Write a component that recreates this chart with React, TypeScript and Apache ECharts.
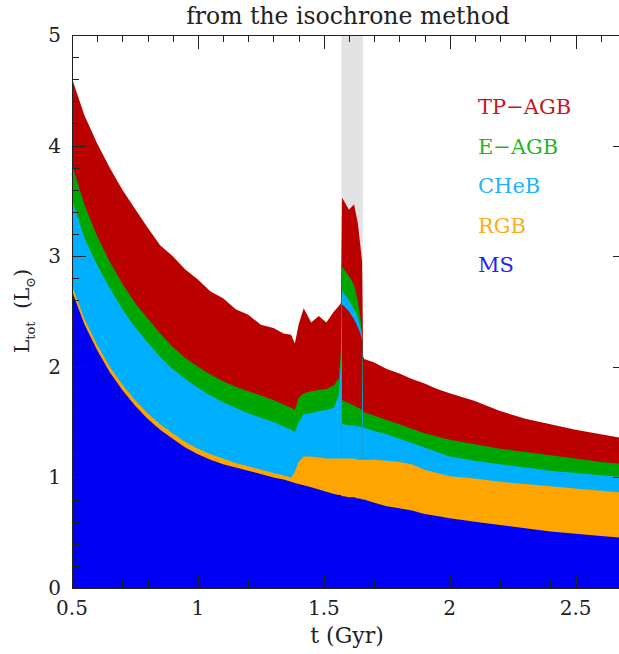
import React, { useEffect, useRef } from "react";
import * as echarts from "echarts";

// Ages (Gyr)
const times = [
  0.5, 0.504, 0.55, 0.6, 0.65, 0.7, 0.75, 0.8, 0.85, 0.9, 0.95,
  1.0, 1.05, 1.1, 1.15, 1.2, 1.25, 1.3, 1.34, 1.37, 1.385,
  1.4, 1.42, 1.45, 1.48, 1.51, 1.54, 1.56, 1.568, 1.572, 1.58,
  1.6, 1.62, 1.635, 1.645, 1.652, 1.656, 1.66, 1.7, 1.75, 1.8,
  1.85, 1.9, 1.95, 2.0, 2.1, 2.2, 2.3, 2.4, 2.5, 2.6,
  2.7,
];

// cumulative luminosity (upper edge of each phase), L_sun
const tpagbTop = [
  5.0, 4.58, 4.27, 4.02, 3.8, 3.6, 3.43, 3.26, 3.1, 3.0, 2.88,
  2.79, 2.68, 2.62, 2.52, 2.47, 2.38, 2.35, 2.3, 2.29, 2.21,
  2.38, 2.53, 2.4, 2.46, 2.4, 2.5, 2.55, 2.58, 3.53, 3.5,
  3.42, 3.47, 3.3, 3.1, 2.95, 2.1, 2.07, 2.04, 1.98, 1.94,
  1.89, 1.85, 1.8, 1.76, 1.69, 1.6, 1.53, 1.48, 1.43, 1.39,
  1.35,
];
const eagbTop = [
  5.0, 3.8, 3.46, 3.18, 2.95, 2.75, 2.58, 2.44, 2.3, 2.18, 2.08,
  2.0, 1.93, 1.87, 1.82, 1.78, 1.74, 1.7, 1.66, 1.63, 1.61,
  1.72, 1.76, 1.78, 1.79, 1.8, 1.83, 1.9, 2.15, 2.91, 2.88,
  2.82, 2.74, 2.6, 2.45, 2.3, 1.6, 1.59, 1.56, 1.52, 1.48,
  1.44, 1.4, 1.37, 1.34, 1.3, 1.26, 1.23, 1.2, 1.17, 1.14,
  1.12,
];
const chebTop = [
  3.5, 3.48, 3.16, 2.92, 2.71, 2.52, 2.36, 2.22, 2.09, 1.98, 1.89,
  1.81, 1.74, 1.68, 1.63, 1.58, 1.54, 1.5, 1.46, 1.43, 1.41,
  1.5, 1.57, 1.58, 1.6, 1.61, 1.63, 1.75, 2.05, 2.69, 2.66,
  2.6, 2.52, 2.45, 2.36, 2.28, 1.45, 1.45, 1.42, 1.39, 1.35,
  1.31, 1.27, 1.23, 1.19, 1.15, 1.12, 1.09, 1.06, 1.04, 1.02,
  1.0,
];
const rgbTop = [
  2.73, 2.71, 2.43, 2.2, 2.0, 1.84, 1.7, 1.58, 1.48, 1.4, 1.32,
  1.26, 1.21, 1.17, 1.13, 1.1, 1.07, 1.04, 1.02, 1.0, 1.05,
  1.14, 1.19, 1.19, 1.18, 1.17, 1.17, 1.17, 1.17, 1.17, 1.17,
  1.17, 1.17, 1.16, 1.16, 1.16, 1.16, 1.16, 1.16, 1.15, 1.14,
  1.12, 1.07, 1.04, 1.01, 0.99, 0.96, 0.94, 0.92, 0.9, 0.88,
  0.86,
];
const msTop = [
  2.68, 2.66, 2.38, 2.15, 1.95, 1.79, 1.65, 1.53, 1.43, 1.35, 1.27,
  1.21, 1.16, 1.12, 1.09, 1.06, 1.03, 1.0, 0.98, 0.96, 0.95,
  0.94, 0.93, 0.91, 0.89, 0.87, 0.85, 0.84, 0.84, 0.83, 0.83,
  0.82, 0.82, 0.81, 0.81, 0.8, 0.8, 0.8, 0.77, 0.74, 0.72,
  0.7, 0.67, 0.65, 0.63, 0.6, 0.57, 0.54, 0.51, 0.49, 0.47,
  0.45,
];

// overlapping isochrones inside the shaded interval
const spikeTimes = [1.572, 1.58, 1.6, 1.62, 1.635, 1.645, 1.652];
const spikeTpagbLow = [2.56, 2.55, 2.5, 2.43, 2.36, 2.3, 2.24];
const spikeEagbLow = [1.7, 1.69, 1.67, 1.65, 1.63, 1.62, 1.61];
const spikeChebLow = [1.48, 1.48, 1.47, 1.47, 1.46, 1.46, 1.45];

const band = [1.57, 1.655];

// axes
const xMin = 0.5;
const xMax = 2.7;
const yMin = 0;
const yMax = 5;
const xMajorStep = 0.5;
const xMinorStep = 0.1;
const yMajorStep = 1;
const yMinorStep = 0.2;

const GRID = { left: 72, top: 35, right: 14, bottom: 66 };
const CHART_W = 640;
const CHART_H = 654;

const legendNames = ["TP\u2212AGB", "E\u2212AGB", "CHeB", "RGB", "MS"];
const colors = {
  tpagb: "#bb0000",
  eagb: "#00a600",
  cheb: "#00b0ff",
  rgb: "#ffa500",
  ms: "#0000f5",
};
const legendColors = ["#c8141c", "#1fb51f", "#22b0ff", "#ffaa22", "#2222ee"];

const FONT = '"DejaVu Serif", "Liberation Serif", serif';
const INK = "#222";

function layer(name: string, xs: number[], ys: number[], color: string) {
  return {
    type: "line",
    name,
    data: xs.map((t, i) => [t, ys[i]]),
    symbol: "none",
    showSymbol: false,
    silent: true,
    lineStyle: { width: 0, color },
    itemStyle: { color },
    areaStyle: { color, opacity: 1 },
  };
}

function tickValues(min: number, max: number, step: number) {
  const out: number[] = [];
  const n = Math.round((max - min) / step);
  for (let i = 1; i < n + 1; i++) {
    const v = Math.round((min + i * step) * 1000) / 1000;
    if (v > min && v < max) out.push(v);
  }
  return out;
}
function isMajor(v: number, step: number) {
  const r = v / step;
  return Math.abs(r - Math.round(r)) < 1e-6;
}

function bar(x: number, y: number, w: number, h: number) {
  return {
    type: "rect",
    silent: true,
    z: 100,
    shape: { x, y, width: w, height: h },
    style: { fill: INK },
  };
}

export default function App() {
  const ref = useRef<HTMLDivElement>(null);
  useEffect(() => {
    if (!ref.current) return;
    const chart = echarts.init(ref.current, null, { renderer: "svg" });
    const labelStyle = { fontFamily: FONT, fontSize: 20, color: INK };
    const hidden = {
      axisLine: { show: false },
      axisTick: { show: false },
      minorTick: { show: false },
      splitLine: { show: false },
    };
    const texts: any[] = [
      {
        type: "text",
        x: 348,
        y: 16,
        style: {
          text: "from the isochrone method",
          font: `23.5px ${FONT}`,
          fill: INK,
          textAlign: "center",
          textVerticalAlign: "middle",
        },
      },
      {
        type: "text",
        x: 347,
        y: 635,
        style: {
          text: "t (Gyr)",
          font: `22px ${FONT}`,
          fill: INK,
          textAlign: "center",
          textVerticalAlign: "middle",
        },
      },
      {
        type: "text",
        x: 22,
        y: 311,
        rotation: Math.PI / 2,
        style: {
          text: "{m|L}{s|tot}{m|  (L}{s|\u2299}{m|)}",
          textAlign: "center",
          textVerticalAlign: "middle",
          fill: INK,
          rich: {
            m: { fontFamily: FONT, fontSize: 20, fill: INK, lineHeight: 30, verticalAlign: "middle" },
            s: { fontFamily: FONT, fontSize: 13, fill: INK, lineHeight: 30, verticalAlign: "bottom" },
          },
        },
      },
      ...legendNames.map((n, i) => ({
        type: "text",
        x: 478,
        y: 107 + i * 39.5,
        style: {
          text: n,
          font: `21px ${FONT}`,
          fill: legendColors[i],
          textAlign: "left",
          textVerticalAlign: "middle",
        },
      })),
    ];
    const option: any = {
      animation: false,
      grid: GRID,
      xAxis: {
        type: "value",
        min: xMin,
        max: xMax,
        interval: xMajorStep,
        ...hidden,
        axisLabel: { ...labelStyle, margin: 10, showMaxLabel: false },
      },
      yAxis: {
        type: "value",
        min: yMin,
        max: yMax,
        interval: yMajorStep,
        ...hidden,
        axisLabel: { ...labelStyle, margin: 11 },
      },
      series: [
        {
          type: "line",
          data: [],
          z: 1,
          silent: true,
          markArea: {
            silent: true,
            itemStyle: { color: "#e2e2e2" },
            data: [[{ xAxis: band[0] }, { xAxis: band[1] }]],
          },
        },
        layer("TP-AGB", times, tpagbTop, colors.tpagb),
        layer("E-AGB", times, eagbTop, colors.eagb),
        layer("CHeB", times, chebTop, colors.cheb),
        layer("TP-AGB b", spikeTimes, spikeTpagbLow, colors.tpagb),
        layer("E-AGB b", spikeTimes, spikeEagbLow, colors.eagb),
        layer("CHeB b", spikeTimes, spikeChebLow, colors.cheb),
        layer("RGB", times, rgbTop, colors.rgb),
        layer("MS", times, msTop, colors.ms),
      ],
      graphic: texts,
    };
    chart.setOption(option);

    // pixel positions through the chart's scales, from interior ticks extrapolated to the frame
    const toX = (v: number) => {
      const p = chart.convertToPixel({ xAxisIndex: 0 } as any, v) as any;
      return Number(Array.isArray(p) ? p[0] : p);
    };
    const toY = (v: number) => {
      const p = chart.convertToPixel({ yAxisIndex: 0 } as any, v) as any;
      return Number(Array.isArray(p) ? p[1] : p);
    };
    const ok = (v: number, lo: number, hi: number) => Number.isFinite(v) && v >= lo && v <= hi;
    let x1 = toX(1);
    let x2 = toX(2);
    if (!ok(x1, 0, CHART_W) || !ok(x2, 0, CHART_W) || x2 <= x1) {
      const w = CHART_W - GRID.left - GRID.right;
      x1 = GRID.left + ((1 - xMin) / (xMax - xMin)) * w;
      x2 = GRID.left + ((2 - xMin) / (xMax - xMin)) * w;
    }
    let y1 = toY(1);
    let y4 = toY(4);
    if (!ok(y1, 0, CHART_H) || !ok(y4, 0, CHART_H) || y1 <= y4) {
      const h = CHART_H - GRID.top - GRID.bottom;
      y1 = GRID.top + ((yMax - 1) / (yMax - yMin)) * h;
      y4 = GRID.top + ((yMax - 4) / (yMax - yMin)) * h;
    }
    const ppx = x2 - x1;
    const ppy = (y1 - y4) / 3;
    const xPix = (v: number) => x1 + (v - 1) * ppx;
    const yPix = (v: number) => y1 - (v - 1) * ppy;
    const left = Math.round(xPix(xMin));
    const right = Math.round(xPix(xMax));
    const top = Math.round(yPix(yMax));
    const bottom = Math.round(yPix(yMin));

    const frame: any[] = [
      bar(left, top, right - left + 1, 1),
      bar(left, bottom, right - left + 1, 1),
      bar(left, top, 1, bottom - top + 1),
      bar(right, top, 1, bottom - top + 1),
    ];
    tickValues(xMin, xMax, xMinorStep).forEach((v) => {
      const len = isMajor(v, xMajorStep) ? 14 : 7;
      const x = Math.round(xPix(v));
      frame.push(bar(x, bottom - len + 1, 1, len));
      frame.push(bar(x, top, 1, len));
    });
    tickValues(yMin, yMax, yMinorStep).forEach((v) => {
      const len = isMajor(v, yMajorStep) ? 14 : 7;
      const y = Math.round(yPix(v));
      frame.push(bar(left, y, len, 1));
      frame.push(bar(right - len + 1, y, len, 1));
    });
    chart.setOption({ graphic: [...texts, ...frame] });
    return () => chart.dispose();
  }, []);
  return (
    <div
      style={{
        position: "fixed",
        left: 0,
        top: 0,
        width: 619,
        height: 654,
        overflow: "hidden",
        background: "#fff",
      }}
    >
      <div ref={ref} style={{ width: CHART_W, height: CHART_H }} />
    </div>
  );
}
